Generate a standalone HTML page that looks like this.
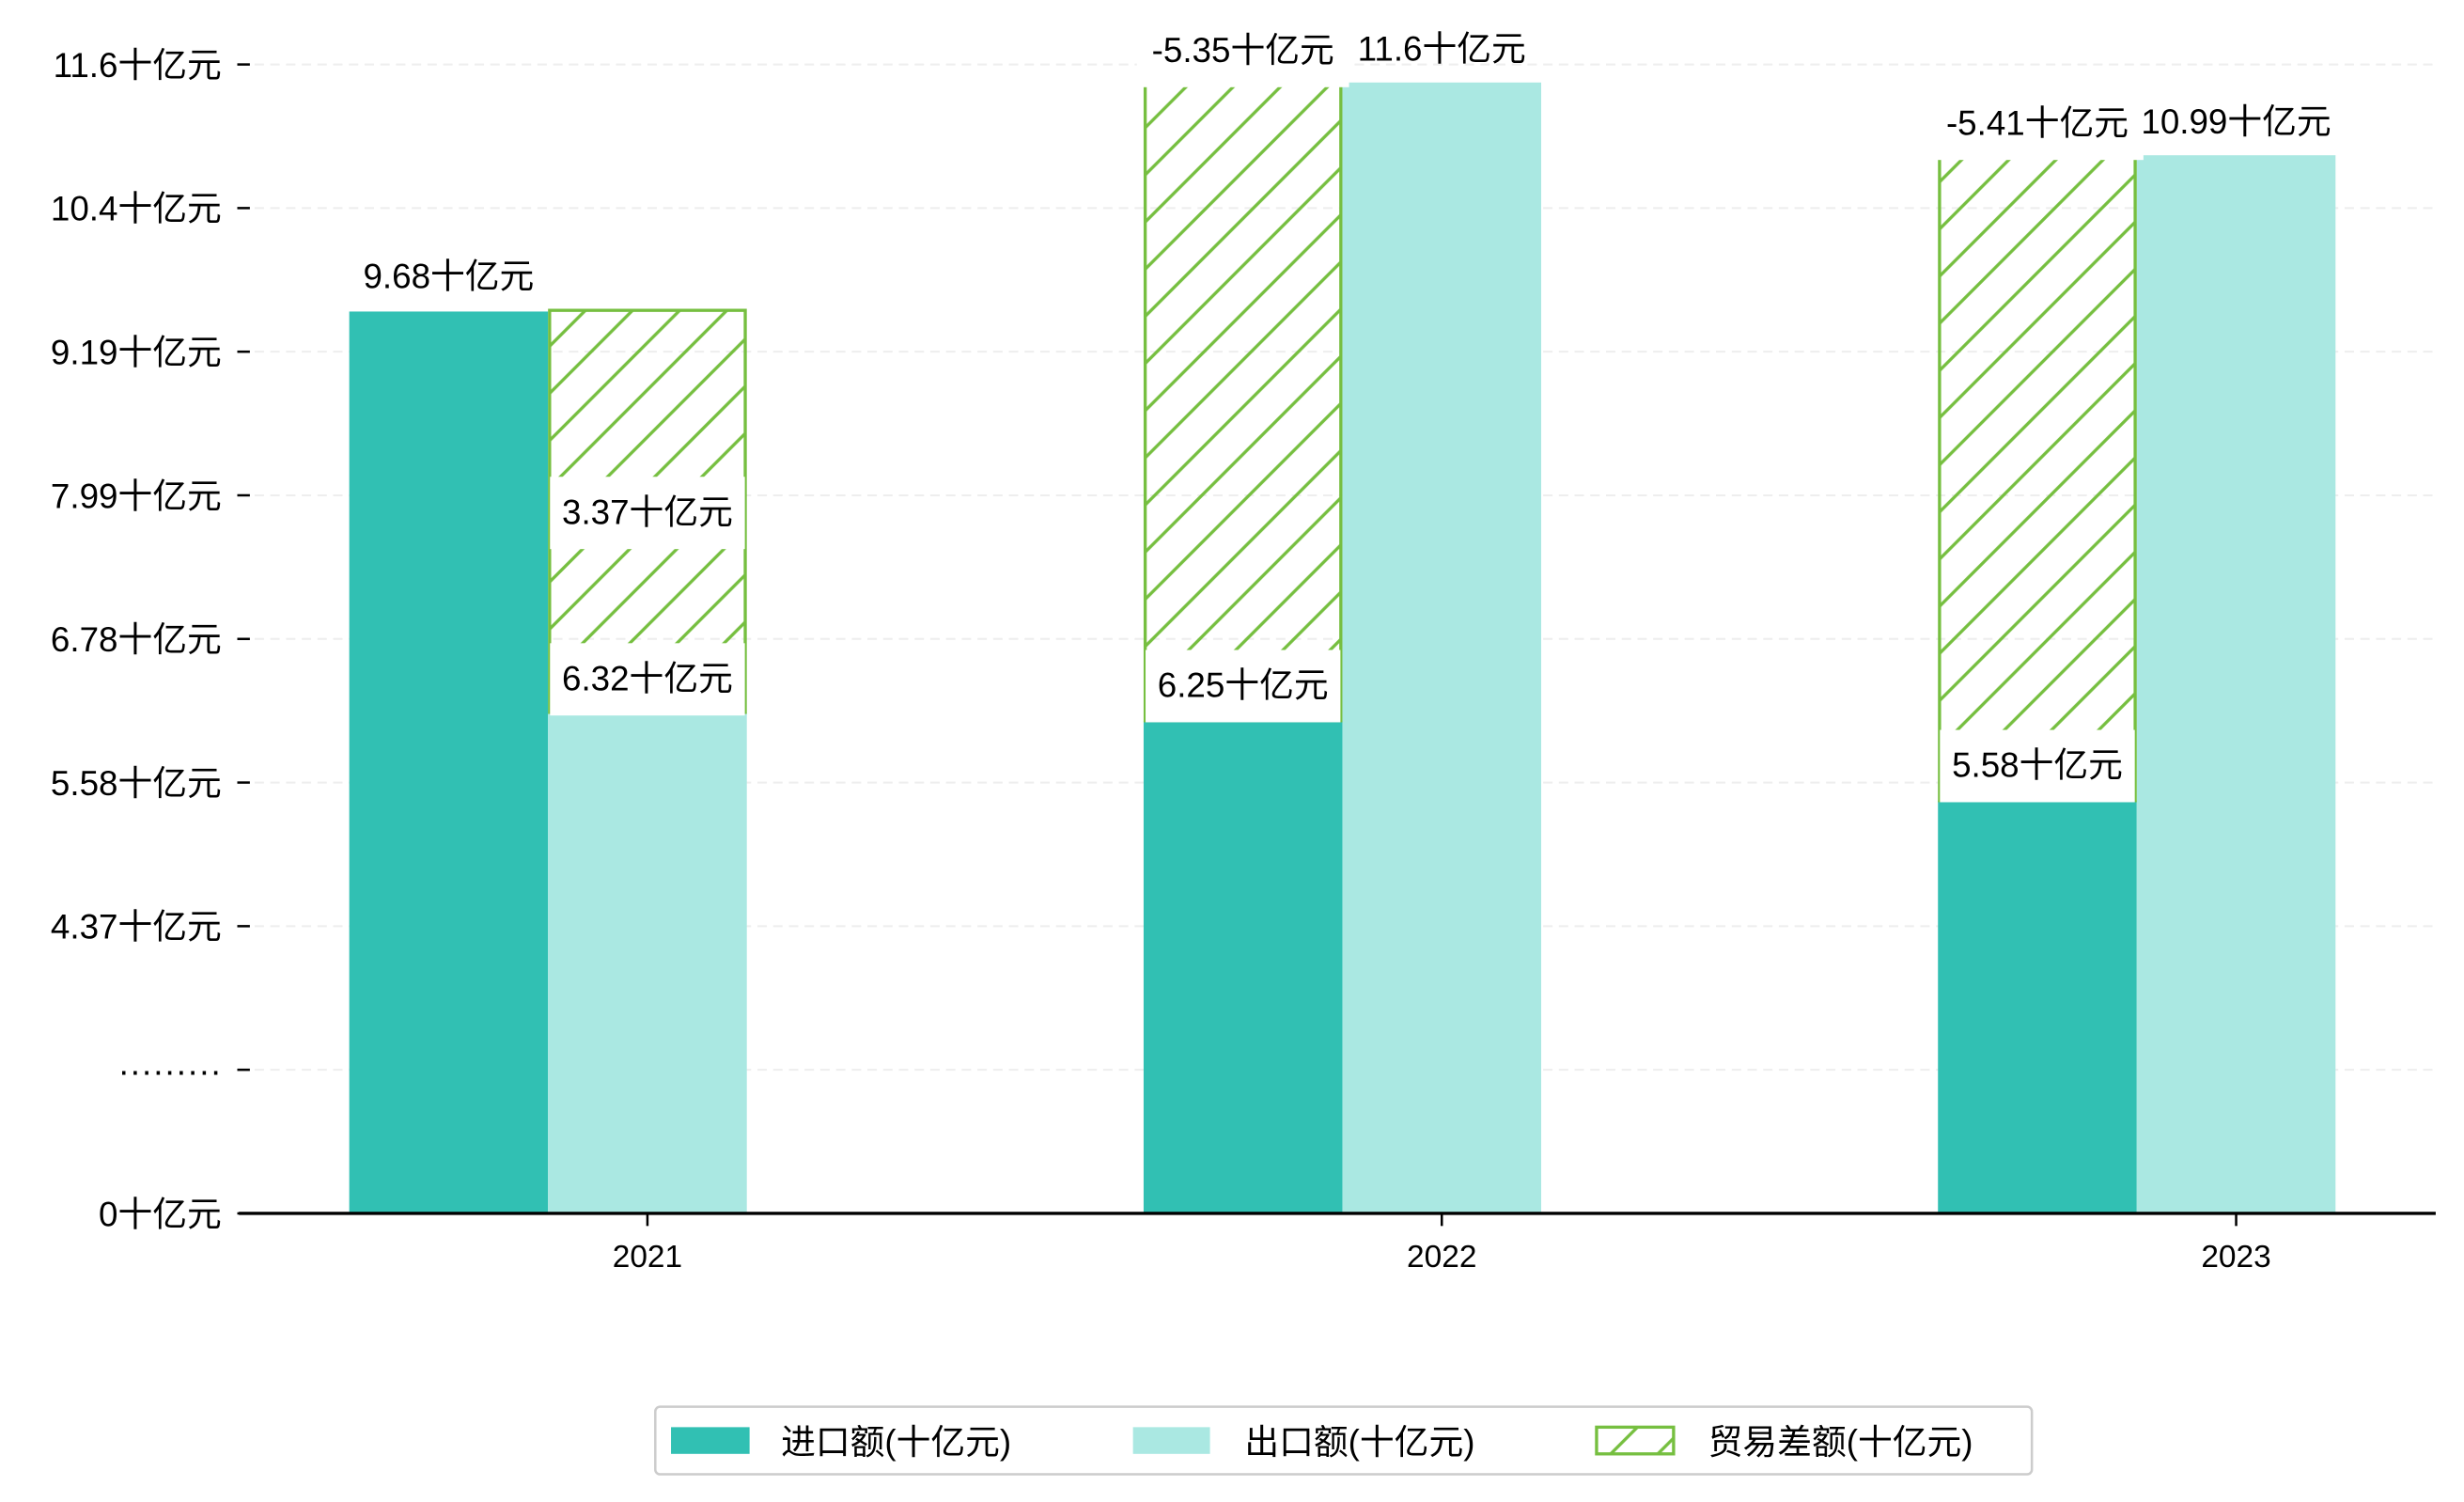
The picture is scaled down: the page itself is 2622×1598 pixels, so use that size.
<!DOCTYPE html>
<html><head><meta charset="utf-8"><style>
html,body{margin:0;padding:0;background:#fff;}
svg{display:block;font-family:"Liberation Sans","WenQuanYi Zen Hei","Noto Sans CJK SC",sans-serif;}
</style></head><body>
<svg id="chart" xmlns="http://www.w3.org/2000/svg" width="2622" height="1598" viewBox="0 0 1568 955.6">
<defs>
<pattern id="hatch" patternUnits="userSpaceOnUse" width="30" height="30">
<path d="M-3,3 L3,-3 M0,30 L30,0 M27,33 L33,27" stroke="#76bf40" stroke-width="2"/>
</pattern>
</defs>
<g id="grid"></g>
<g id="bars"></g>
<g id="labels"></g>
<g id="yaxis"></g>
<g id="xaxis"></g>
<g>
<rect x="417" y="895" width="876" height="43" rx="3" fill="#fff" stroke="#cccccc" stroke-width="1.5"/>
<rect x="427" y="908" width="50" height="17" fill="#31c0b3"/>
<text x="497" y="925" font-size="22">进口额(十亿元)</text>
<rect x="721" y="908" width="49" height="17" fill="#aae8e2"/>
<text x="792" y="925" font-size="22">出口额(十亿元)</text>
<rect x="1016" y="908" width="49" height="17" fill="url(#hatch)" stroke="#76bf40" stroke-width="2"/>
<text x="1087" y="925" font-size="22">贸易差额(十亿元)</text>
</g>
</svg>
<script>
const years = ["2021","2022","2023"];
const imports = [9.68, 6.25, 5.58];
const exports_ = [6.32, 11.6, 10.99];
const balance = [3.37, -5.35, -5.41];
const yTickLabels = ["0十亿元","·········","4.37十亿元","5.58十亿元","6.78十亿元","7.99十亿元","9.19十亿元","10.4十亿元","11.6十亿元"];

const NS="http://www.w3.org/2000/svg";
const L=152,R=1550,BASE=772;
const K=75.9, OFF=2.12;
function y(v){return BASE-(v-OFF)*K;}
function xc(i){return 412+i*505.5;}
const BW=126.5;
function mk(tag,attrs,parent){const e=document.createElementNS(NS,tag);for(const k in attrs)e.setAttribute(k,attrs[k]);parent.appendChild(e);return e;}
const grid=document.getElementById('grid'),bars=document.getElementById('bars'),labels=document.getElementById('labels'),ya=document.getElementById('yaxis'),xa=document.getElementById('xaxis');

const tickStep=(BASE-41)/(yTickLabels.length-1);
yTickLabels.forEach((t,i)=>{
  const ty=BASE-i*tickStep;
  if(i>0){const g=mk('line',{x1:L,x2:R,y1:ty,y2:ty,stroke:'#eeeeee','stroke-width':1.2,'stroke-dasharray':'6,4'},grid);
  
  }
  const tm=mk('line',{x1:151,x2:159,y1:ty,y2:ty,stroke:'#000','stroke-width':1.5},ya);
  
  
  const tx=mk('text',{x:141,y:ty+8,'font-size':22,'text-anchor':'end'},ya);
  
  
  tx.textContent=t;
});

function labelBox(txt,cx,cy,boxed,name){
  const w=txt.length*11+ (txt.replace(/[\x00-\x7f]/g,'').length)*11+14;
  if(boxed){const b=mk('rect',{x:cx-w/2,y:cy-22,width:w,height:46,fill:'#fff'},labels);
  
  }
  const t=mk('text',{x:cx,y:cy+8,'font-size':22,'text-anchor':'middle'},labels);
  
  
  t.textContent=txt;
}

const diffLabels=[];
years.forEach((yr,i)=>{
  const c=xc(i);
  const ix=c-1.5*BW, ex=c-0.5*BW;
  const r1=mk('rect',{x:ix,y:y(imports[i]),width:BW,height:BASE-y(imports[i]),fill:'#31c0b3'},bars);
  
  
  const r2=mk('rect',{x:ex,y:y(exports_[i]),width:BW,height:BASE-y(exports_[i]),fill:'#aae8e2'},bars);
  
  
  const pos=balance[i]>=0;
  const hx=pos?ex:ix;
  const base=pos?exports_[i]:imports[i];
  const top=base+Math.abs(balance[i]);
  const r3=mk('rect',{x:hx+1,y:y(top),width:BW-2,height:y(base)-y(top),fill:'url(#hatch)',stroke:'#76bf40','stroke-width':2},bars);
  
  
  labelBox(imports[i].toFixed(2)+'十亿元',ix+BW/2,y(imports[i])-23,!pos,'label-import-'+yr);
  labelBox(exports_[i]+'十亿元',ex+BW/2,y(exports_[i])-22,pos,'label-export-'+yr);
  const by=pos?(y(base)+y(top))/2:y(top)-21;
  diffLabels.push([balance[i].toFixed(2)+'十亿元',hx+BW/2,by,'label-balance-'+yr]);
  const xt=mk('line',{x1:c,x2:c,y1:BASE,y2:BASE+8,stroke:'#000','stroke-width':1.5},xa);
  
  
  const xl=mk('text',{x:c,y:806,'font-size':20,'text-anchor':'middle'},xa);
  
  
  xl.textContent=yr;
});
diffLabels.forEach(d=>labelBox(d[0],d[1],d[2],true,d[3]));
const ax=mk('line',{x1:L,x2:R,y1:BASE,y2:BASE,stroke:'#000','stroke-width':2},xa);


</script>
</body></html>
